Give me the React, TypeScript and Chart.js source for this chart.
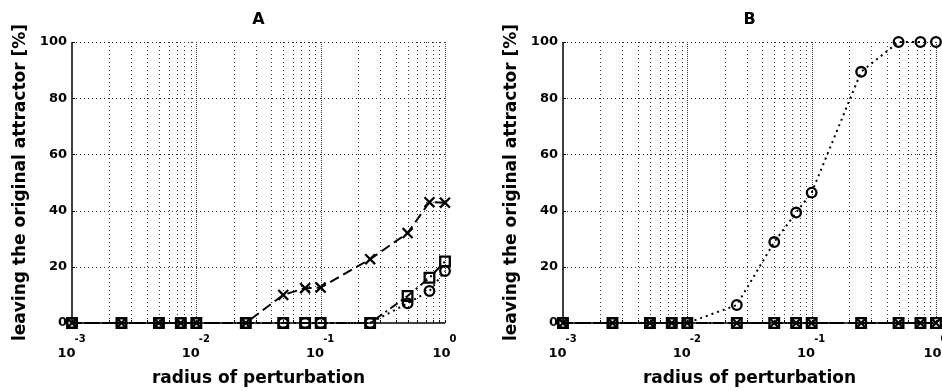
import { useEffect, useRef } from "react";
import { Chart, registerables } from "chart.js";

Chart.register(...registerables);

// Perturbation radii (shared by both panels)
const radius = [0.001, 0.0025, 0.005, 0.0075, 0.01, 0.025, 0.05, 0.075, 0.1, 0.25, 0.5, 0.75, 1];

// Panel A: share of trajectories leaving the original attractor [%]
const crossA = [0, 0, 0, 0, 0, 0, 10, 12.4, 12.6, 22.7, 32, 43, 42.8];
const squareA = [0, 0, 0, 0, 0, 0, 0, 0, 0, 0, 9.6, 16.1, 21.9];
const circleA = [0, 0, 0, 0, 0, 0, 0, 0, 0, 0, 7, 11.4, 18.5];

// Panel B
const crossB = [0, 0, 0, 0, 0, 0, 0, 0, 0, 0, 0, 0, 0];
const squareB = [0, 0, 0, 0, 0, 0, 0, 0, 0, 0, 0, 0, 0];
const circleB = [0, 0, 0, 0, 0, 6.4, 28.8, 39.3, 46.4, 89.4, 100, 100, 100];

const yTickValues = [0, 20, 40, 60, 80, 100];
const decadeExponents = [-3, -2, -1, 0];

const xTitle = "radius of perturbation";
const yTitle = "leaving the original attractor [%]";

const FONT = '"DejaVu Sans", sans-serif';

function gridValues(): number[] {
  const out: number[] = [];
  for (let k = -3; k < 0; k++) {
    for (let m = 1; m <= 9; m++) out.push(m * Math.pow(10, k));
  }
  out.push(1);
  return out;
}

function makeFramePlugin(title: string) {
  return {
    id: "matlabFrame",
    beforeDatasetsDraw(chart: any) {
      const { ctx, chartArea } = chart;
      const xs = chart.scales.x;
      const ys = chart.scales.y;
      const { left, right, top, bottom } = chartArea;
      ctx.save();
      ctx.strokeStyle = "#333";
      ctx.lineWidth = 1;
      // vertical log grid
      for (const v of gridValues()) {
        if (v <= 0.001) continue;
        const px = Math.round(xs.getPixelForValue(v)) + 0.5;
        const isDecade = Math.abs(Math.log10(v) - Math.round(Math.log10(v))) < 1e-9;
        ctx.setLineDash(isDecade ? [1, 1] : [1, 3]);
        ctx.beginPath();
        ctx.moveTo(px, top);
        ctx.lineTo(px, bottom);
        ctx.stroke();
      }
      // horizontal grid
      ctx.setLineDash([1, 3]);
      for (const v of yTickValues) {
        if (v === 0) continue;
        const py = Math.round(ys.getPixelForValue(v)) + 0.5;
        ctx.beginPath();
        ctx.moveTo(left, py);
        ctx.lineTo(right, py);
        ctx.stroke();
      }
      ctx.setLineDash([]);
      ctx.strokeStyle = "#000";
      // inward tick marks
      for (const v of gridValues()) {
        const px = Math.round(xs.getPixelForValue(v)) + 0.5;
        ctx.beginPath();
        ctx.moveTo(px, bottom);
        ctx.lineTo(px, bottom - 3);
        ctx.stroke();
      }
      for (const v of yTickValues) {
        const py = Math.round(ys.getPixelForValue(v)) + 0.5;
        ctx.beginPath();
        ctx.moveTo(left, py);
        ctx.lineTo(left + 3, py);
        ctx.stroke();
      }
      // axis lines
      ctx.lineWidth = 1.5;
      ctx.beginPath();
      ctx.moveTo(left, top);
      ctx.lineTo(left, bottom);
      ctx.lineTo(right, bottom);
      ctx.stroke();

      // text
      ctx.fillStyle = "#000";
      const cx = (left + right) / 2;
      ctx.textAlign = "center";
      ctx.textBaseline = "alphabetic";
      ctx.font = `bold 16px ${FONT}`;
      ctx.fillText(title, cx, 24);
      ctx.font = `bold 17px ${FONT}`;
      ctx.fillText(xTitle, cx, 383);
      ctx.save();
      ctx.translate(21, (top + bottom) / 2);
      ctx.rotate(-Math.PI / 2);
      ctx.textBaseline = "middle";
      ctx.fillText(yTitle, 0, 0);
      ctx.restore();

      // x tick labels as 10^k
      ctx.textAlign = "left";
      for (const k of decadeExponents) {
        const px = xs.getPixelForValue(Math.pow(10, k));
        const exp = String(k);
        ctx.font = `bold 13px ${FONT}`;
        const wb = ctx.measureText("10").width;
        ctx.font = `bold 10px ${FONT}`;
        const we = ctx.measureText(exp).width;
        const start = px - (wb + we) / 2;
        ctx.font = `bold 13px ${FONT}`;
        ctx.fillText("10", start, 357);
        ctx.font = `bold 10px ${FONT}`;
        ctx.fillText(exp, start + wb - 1, 342);
      }
      ctx.restore();
    },
  };
}

function series(values: number[], style: string, dash: number[], radiusPx: number, width: number) {
  return {
    data: radius.map((r, i) => ({ x: r, y: values[i] })),
    borderColor: "#000",
    borderWidth: width,
    borderDash: dash,
    pointStyle: style,
    pointRadius: radiusPx,
    pointBorderWidth: 2.3,
    pointBorderColor: "#000",
    pointBackgroundColor: "rgba(0,0,0,0)",
    backgroundColor: "rgba(0,0,0,0)",
    tension: 0,
    clip: false as any,
  };
}

function Panel({ title, cross, square, circle, left }: { title: string; cross: number[]; square: number[]; circle: number[]; left: number }) {
  const ref = useRef<HTMLCanvasElement | null>(null);
  useEffect(() => {
    if (!ref.current) return;
    const chart = new Chart(ref.current, {
      type: "line",
      data: {
        datasets: [
          series(cross, "crossRot", [10, 5], 7, 2),
          series(square, "rect", [9, 4, 2, 4], 6.8, 2),
          series(circle, "circle", [2, 4], 4.8, 2),
        ] as any,
      },
      options: {
        animation: false,
        responsive: false,
        devicePixelRatio: 1,
        events: [],
        layout: { padding: { top: 42, right: 26, bottom: 0, left: 0 } },
        plugins: { legend: { display: false }, tooltip: { enabled: false }, title: { display: false } },
        scales: {
          x: {
            type: "logarithmic",
            min: 0.001,
            max: 1,
            ticks: { display: false },
            grid: { display: false },
            border: { display: false },
            afterFit: (s: any) => {
              s.height = 68;
            },
          },
          y: {
            type: "linear",
            min: 0,
            max: 100,
            ticks: {
              stepSize: 20,
              color: "#000",
              padding: 5,
              font: { family: FONT, size: 13, weight: "bold" },
            },
            grid: { display: false, drawTicks: false },
            border: { display: false },
            afterFit: (s: any) => {
              s.width = 72;
            },
          },
        },
      } as any,
      plugins: [makeFramePlugin(title)],
    });
    return () => chart.destroy();
  }, []);
  return (
    <div style={{ position: "absolute", left, top: 0, width: 471, height: 391 }}>
      <canvas ref={ref} width={471} height={391} style={{ width: 471, height: 391, display: "block" }} />
    </div>
  );
}

export default function App() {
  return (
    <div style={{ position: "absolute", left: 0, top: 0, width: 942, height: 391, overflow: "hidden", background: "#fff" }}>
      <Panel title="A" cross={crossA} square={squareA} circle={circleA} left={0} />
      <Panel title="B" cross={crossB} square={squareB} circle={circleB} left={491} />
    </div>
  );
}
